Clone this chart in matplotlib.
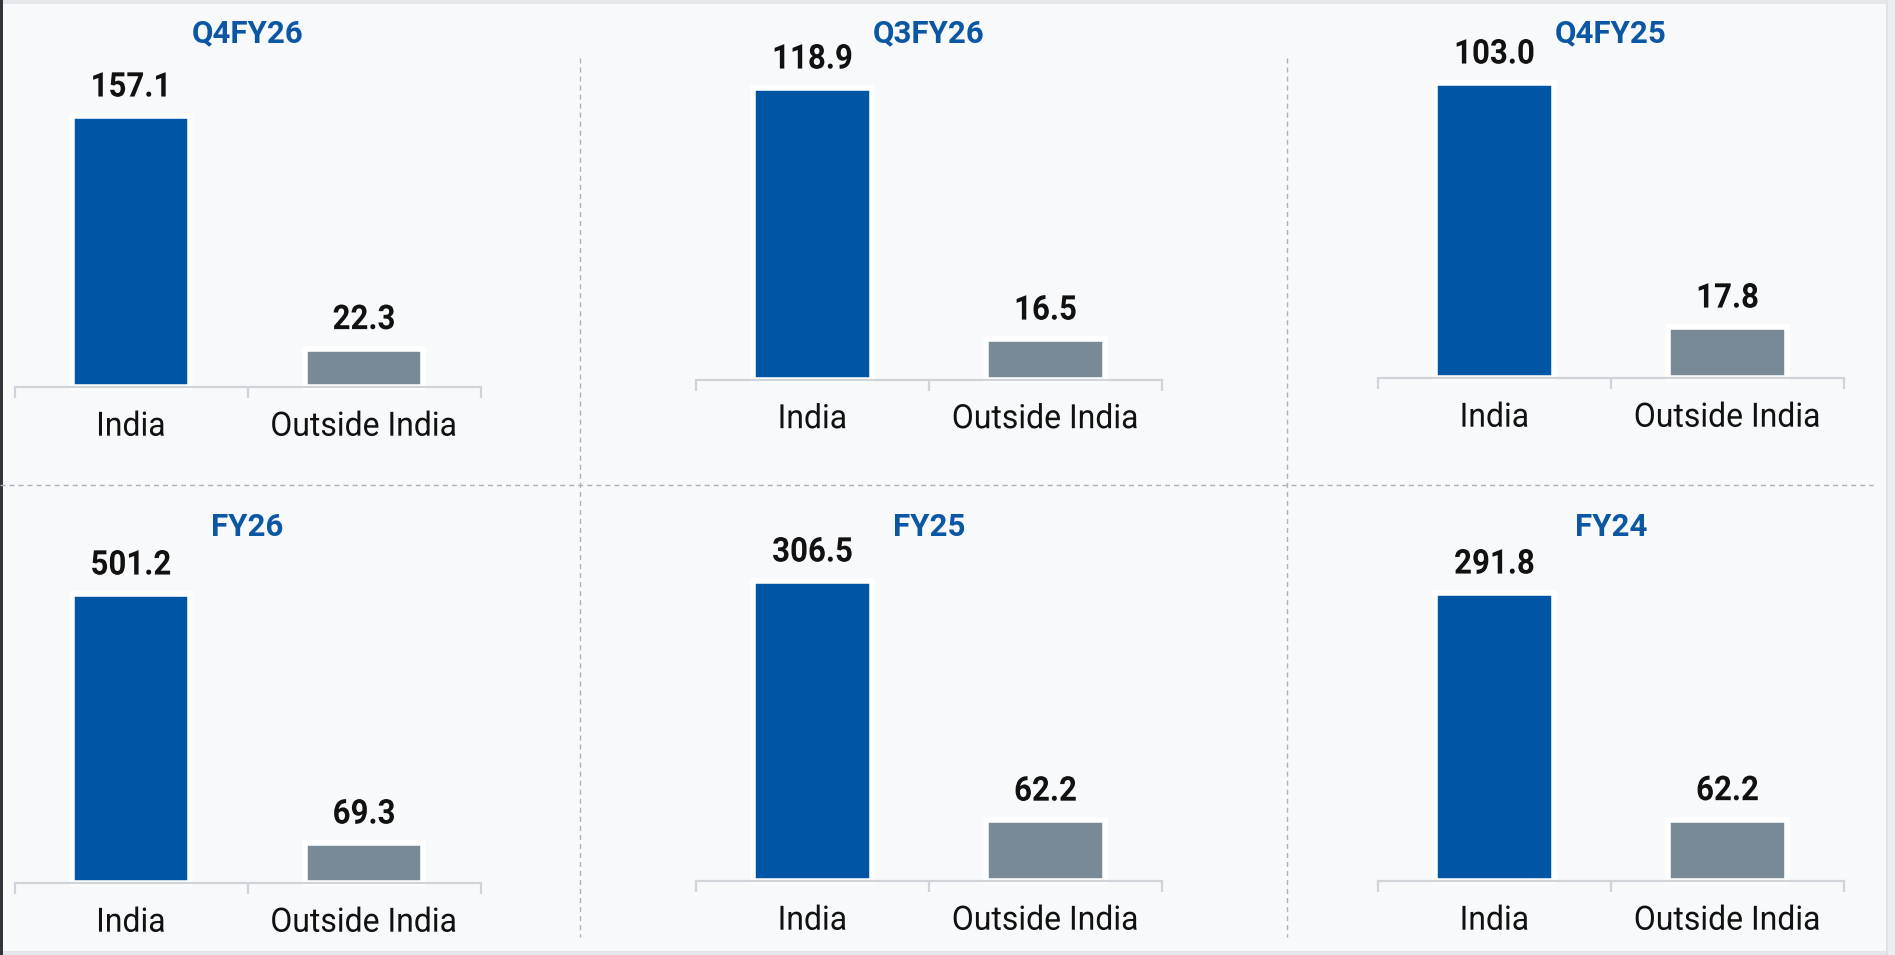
import matplotlib.pyplot as plt
from matplotlib.lines import Line2D
from matplotlib.patches import Rectangle
from matplotlib.patheffects import AbstractPathEffect
from matplotlib.transforms import Affine2D

plt.rcParams['font.family'] = ['Roboto', 'DejaVu Sans']

# data
periods = ['Q4FY26', 'Q3FY26', 'Q4FY25', 'FY26', 'FY25', 'FY24']
categories = ['India', 'Outside India']
india = [157.1, 118.9, 103.0, 501.2, 306.5, 291.8]
outside = [22.3, 16.5, 17.8, 69.3, 62.2, 62.2]

# layout in pixels of the 1895x955 canvas
W, H = 1895, 955
col_left = [14.5, 696, 1378]
panel_w = 466
baselines = [387, 379.5, 378, 883, 881, 881]
tops = [116, 88, 83, 594, 581, 593]
title_y = [42, 536]

bg = '#f8f9fb'
c_india = '#0055a5'
c_out = '#778a96'
c_title = '#0b57a4'
c_axis = '#d0d4d8'
c_dash = '#a8b3bb'


class Stretch(AbstractPathEffect):
    # the source font is a little taller/narrower than Roboto
    def __init__(self, sy):
        super().__init__()
        self.sy = sy

    def draw_path(self, renderer, gc, tpath, affine, rgbFace=None):
        renderer.draw_path(gc, tpath, Affine2D().scale(1, self.sy) + affine, rgbFace)


def fx(x):
    return x / W


def fy(y):
    return 1 - y / H


fig = plt.figure(figsize=(W / 100, H / 100), dpi=100, facecolor=bg)

for i, name in enumerate(periods):
    left = col_left[i % 3]
    ax = fig.add_axes([fx(left), fy(baselines[i]), panel_w / W,
                       (baselines[i] - tops[i]) / H])
    ax.set_facecolor('none')
    vals = [india[i], outside[i]]
    bars = ax.bar(range(2), vals, width=0.51, color=[c_india, c_out],
                  edgecolor='white', linewidth=4, clip_on=False)
    ax.set_xlim(-0.5, 1.5)
    ax.set_ylim(0, india[i])
    for b, v in zip(bars, vals):
        ax.annotate(f'{v:.1f}', (b.get_x() + b.get_width() / 2, v),
                    xytext=(0, 14), textcoords='offset points',
                    ha='center', va='baseline', fontsize=22.5,
                    fontweight='bold', color='#111111',
                    path_effects=[Stretch(1.09)])
    for s in ['left', 'right', 'top']:
        ax.spines[s].set_visible(False)
    ax.spines['bottom'].set_color(c_axis)
    ax.spines['bottom'].set_linewidth(1.6)
    ax.set_yticks([])
    ax.set_xticks(range(2))
    ax.set_xticklabels(categories, fontsize=23, color='#111111')
    for lbl in ax.get_xticklabels():
        lbl.set_path_effects([Stretch(1.05)])
    ax.tick_params(axis='x', which='major', length=0, pad=18.5)
    ax.set_xticks([-0.5, 0.5, 1.5], minor=True)
    ax.tick_params(axis='x', which='minor', length=7.7, width=1.6,
                   color=c_axis, direction='out')
    fig.text(fx(left + panel_w / 2), fy(title_y[i // 3]), name,
             ha='center', va='baseline', fontsize=22.5,
             fontweight='bold', color=c_title)

# dashed separators
dash = dict(color=c_dash, linewidth=1.0, linestyle=(0, (3.6, 2.9)))
for x in [580, 1287]:
    fig.add_artist(Line2D([fx(x), fx(x)], [fy(58), fy(937)], **dash))
fig.add_artist(Line2D([fx(0), fx(1873)], [fy(485), fy(485)], **dash))

# frame edges
fig.add_artist(Rectangle((0, fy(4)), 1, 4 / H, color='#e5e7ea', lw=0))
fig.add_artist(Rectangle((0, 0), 1, 4 / H, color='#e5e7ea', lw=0))
fig.add_artist(Rectangle((fx(1886), 0), 9 / W, 1, color='#eceef0', lw=0))
fig.add_artist(Rectangle((fx(1886), 0), 2 / W, 1, color='#e0e2e6', lw=0))
fig.add_artist(Rectangle((0, 0), 3 / W, 1, color='#30343b', lw=0))

fig.savefig('out.png', dpi=100, facecolor=bg)
